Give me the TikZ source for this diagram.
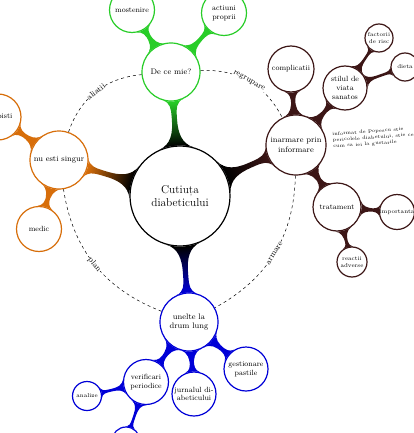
\documentclass[tikz,border=0pt]{standalone}
\usetikzlibrary{mindmap,backgrounds}
\definecolor{cgreen}{RGB}{40,205,40}
\definecolor{cblue}{RGB}{0,0,215}
\definecolor{corange}{RGB}{215,110,10}
\definecolor{cbrown}{RGB}{60,22,22}
\begin{document}
\begin{tikzpicture}[x=1pt,y=-1pt,
  cn/.style={circle,draw=#1,fill=white,line width=1.2pt,align=center,inner sep=0pt},
  lroot/.style={font=\fontsize{11.4}{13}\selectfont,minimum size=100pt},
  lone/.style={font=\fontsize{8}{9.6}\selectfont,minimum size=58pt},
  ltwo/.style={font=\fontsize{7.5}{8.6}\selectfont},
  lthree/.style={font=\fontsize{5.8}{6.6}\selectfont},
  lab/.style={sloped,midway,font=\fontsize{8}{9}\selectfont,fill=white,inner sep=0.5pt},
  arcl/.style={dashed,line width=0.5pt},
  bar/.style args={#1/#2}{circle connection bar switch color=from (#1) to (#2)}
]
\useasboundingbox (0,0) rectangle (413,433);
% root
\node[cn=black,lroot] (root) at (180,196) {Cutiuța\\diabeticului};
% green branch
\node[cn=cgreen,lone] (mie) at (171,72) {De ce mie?};
\node[cn=cgreen,ltwo,minimum size=45pt] (most) at (132,10) {mostenire};
\node[cn=cgreen,ltwo,minimum size=45pt] (act) at (224,13) {actiuni\\proprii};
% brown branch
\node[cn=cbrown,lone,minimum size=60pt] (inar) at (296,145) {inarmare prin\\informare};
\node[cn=cbrown,ltwo,minimum size=46pt] (compl) at (291,69) {complicatii};
\node[cn=cbrown,ltwo,minimum size=44pt] (stil) at (345,88) {stilul de\\viata\\sanatos};
\node[cn=cbrown,lthree,minimum size=28pt] (fact) at (379,38) {factorii\\de risc};
\node[cn=cbrown,lthree,minimum size=28pt] (dieta) at (405,67) {dieta};
\node[cn=cbrown,ltwo,minimum size=48pt] (trat) at (337,207) {tratament};
\node[cn=cbrown,lthree,minimum size=29pt] (imp) at (397,212) {importanta};
\node[cn=cbrown,lthree,minimum size=30pt] (reac) at (352,262) {reactii\\adverse};
\node[anchor=north west,rotate=4,font=\fontsize{4.8}{6.2}\selectfont,align=left,inner sep=0pt] (note) at (332,132) {informat de Popescu stie\\pericolele diabetului, stie ce si\\cum sa iei la gustarile};
% orange branch
\node[cn=corange,lone] (sing) at (59,160) {nu esti singur};
\node[cn=corange,ltwo,minimum size=46pt] (ter) at (-2,117) {terapisti};
\node[cn=corange,ltwo,minimum size=45pt] (med) at (39,229) {medic};
% blue branch
\node[cn=cblue,lone] (unel) at (189,322) {unelte la\\drum lung};
\node[cn=cblue,ltwo,minimum size=45pt] (verif) at (146,382) {verificari\\periodice};
\node[cn=cblue,ltwo,minimum size=44pt] (jurn) at (194,394) {jurnalul di-\\abeticului};
\node[cn=cblue,ltwo,minimum size=44pt] (gest) at (246,369) {gestionare\\pastile};
\node[cn=cblue,lthree,minimum size=29pt] (anal) at (87,396) {analize};
\node[cn=cblue,lthree,minimum size=28pt] (bott) at (126,441) {};
% dashed relations
\draw[arcl] (sing) to[bend left=33] node[lab] {aliatii} (mie);
\draw[arcl] (mie) to[bend left=33] node[lab] {regrupare} (inar);
\draw[arcl] (inar) to[bend left=30] node[lab] {armare} (unel);
\draw[arcl] (unel) to[bend left=30] node[lab] {plan} (sing);
% connection bars
\begin{scope}[on background layer]
\path (root) to[bar=black/cgreen] (mie);
\path (root) to[bar=black/cbrown] (inar);
\path (root) to[bar=black/corange] (sing);
\path (root) to[bar=black/cblue] (unel);
\path (mie) to[bar=cgreen/cgreen] (most);
\path (mie) to[bar=cgreen/cgreen] (act);
\path (inar) to[bar=cbrown/cbrown] (compl);
\path (inar) to[bar=cbrown/cbrown] (stil);
\path (stil) to[bar=cbrown/cbrown] (fact);
\path (stil) to[bar=cbrown/cbrown] (dieta);
\path (inar) to[bar=cbrown/cbrown] (trat);
\path (trat) to[bar=cbrown/cbrown] (imp);
\path (trat) to[bar=cbrown/cbrown] (reac);
\path (sing) to[bar=corange/corange] (ter);
\path (sing) to[bar=corange/corange] (med);
\path (unel) to[bar=cblue/cblue] (verif);
\path (unel) to[bar=cblue/cblue] (jurn);
\path (unel) to[bar=cblue/cblue] (gest);
\path (verif) to[bar=cblue/cblue] (anal);
\path (verif) to[bar=cblue/cblue] (bott);
\end{scope}
\end{tikzpicture}
\end{document}
